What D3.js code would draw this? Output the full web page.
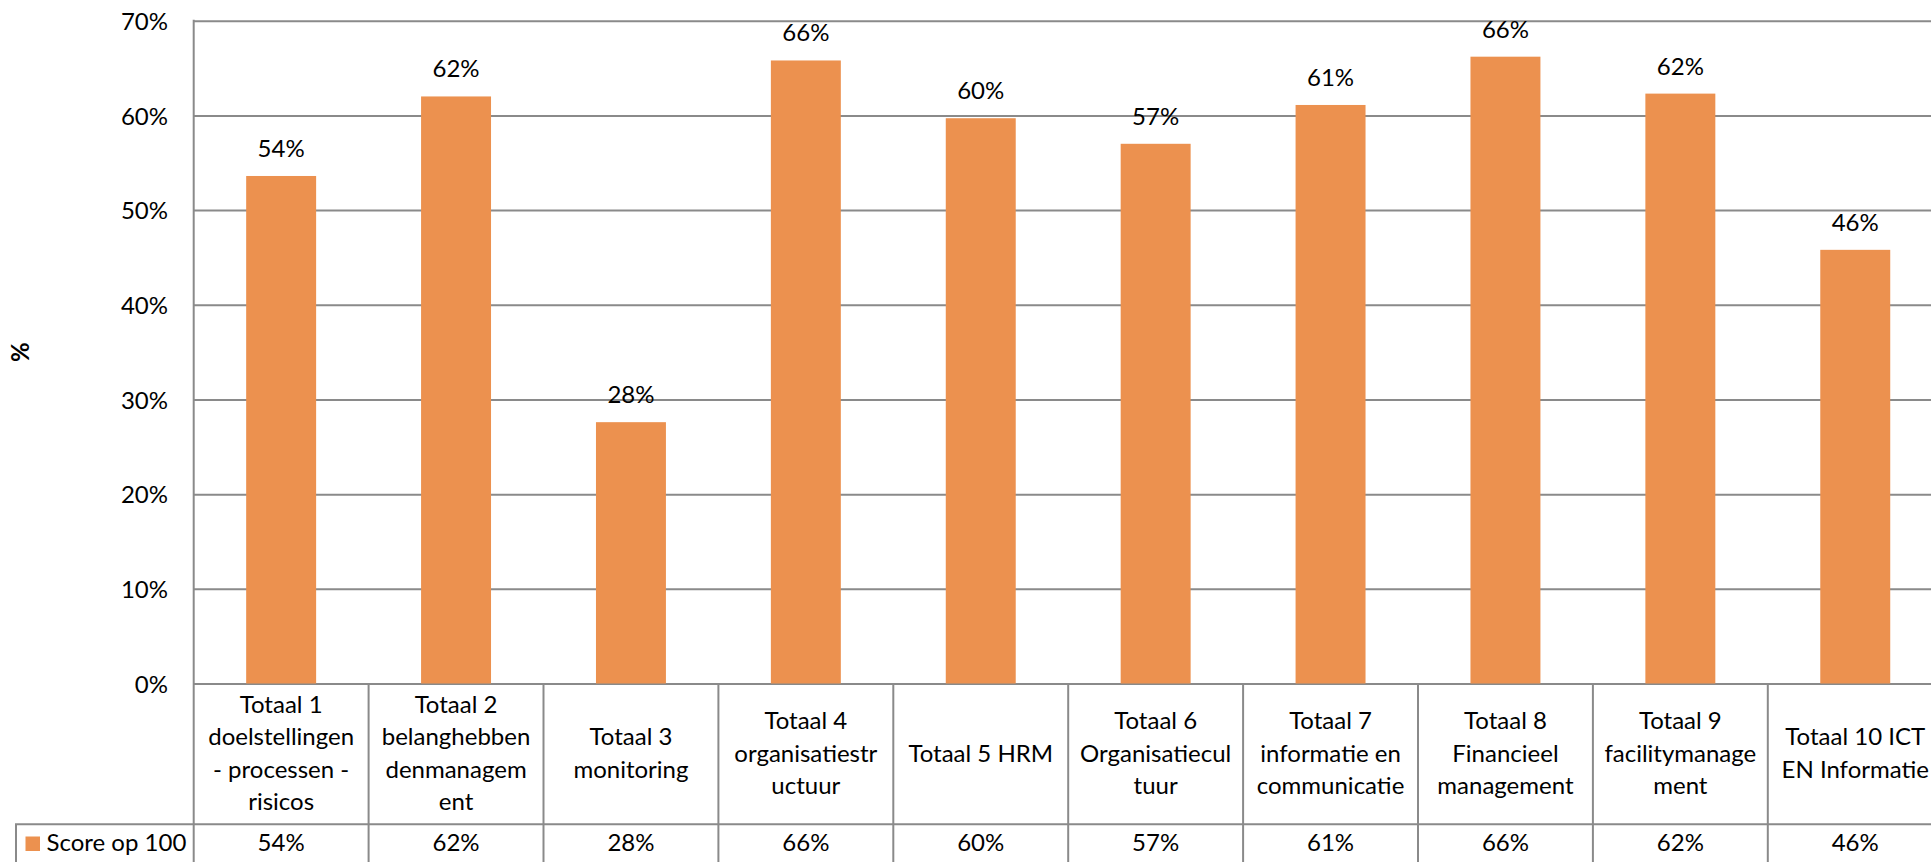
<!DOCTYPE html>
<html>
<head>
<meta charset="utf-8">
<script src="https://cdn.jsdelivr.net/npm/d3@7"></script>
<style>
  html, body { margin: 0; padding: 0; background: #fff; overflow: hidden; }
  svg { display: block; }
  text { font-family: Lato, "Open Sans", sans-serif; fill: #000; }
</style>
</head>
<body>
<svg id="chart" width="1931" height="862"></svg>
<script>
// ---- data ----
const categories = [
  "Totaal 1 doelstellingen - processen - risicos",
  "Totaal 2 belanghebbendenmanagement",
  "Totaal 3 monitoring",
  "Totaal 4 organisatiestructuur",
  "Totaal 5 HRM",
  "Totaal 6 Organisatiecultuur",
  "Totaal 7 informatie en communicatie",
  "Totaal 8 Financieel management",
  "Totaal 9 facilitymanagement",
  "Totaal 10 ICT EN Informatie"
];
const categoryLines = [
  ["Totaal 1", "doelstellingen", "- processen -", "risicos"],
  ["Totaal 2", "belanghebben", "denmanagem", "ent"],
  ["Totaal 3", "monitoring"],
  ["Totaal 4", "organisatiestr", "uctuur"],
  ["Totaal 5 HRM"],
  ["Totaal 6", "Organisatiecul", "tuur"],
  ["Totaal 7", "informatie en", "communicatie"],
  ["Totaal 8", "Financieel", "management"],
  ["Totaal 9", "facilitymanage", "ment"],
  ["Totaal 10 ICT", "EN Informatie"]
];
const seriesName = "Score op 100";
const scores = [0.536, 0.620, 0.276, 0.658, 0.597, 0.570, 0.611, 0.662, 0.623, 0.458];
const yTicks = [0, 0.1, 0.2, 0.3, 0.4, 0.5, 0.6, 0.7];
const yTitle = "%";

// ---- layout ----
const W = 1931, H = 862;
const plotLeft = 193.7, plotRight = 1942.7;
const plotTop = 20.7, plotBottom = 683.5;
const headerBottom = 824.3;
const legendLeft = 16;
const fontSize = 24;
const lineGap = 32.3;
const gridColor = "#8a8a8a";
const barColor = "#EC914F";

const svg = d3.select("#chart");

const x = d3.scaleBand().domain(categories).range([plotLeft, plotRight]).paddingInner(0.6).paddingOuter(0.3);
const xCol = d3.scaleBand().domain(categories).range([plotLeft, plotRight]).padding(0);
const y = d3.scaleLinear().domain([0, 0.7]).range([plotBottom, plotTop]);
const pct = d3.format(".0%");

// gridlines (via axis)
const gridAxis = d3.axisLeft(y).tickValues(yTicks).tickSize(-(plotRight - plotLeft)).tickFormat("");
const grid = svg.append("g").attr("transform", `translate(${plotLeft},0)`).call(gridAxis);
grid.select(".domain").remove();
grid.selectAll(".tick line").attr("stroke", gridColor).attr("stroke-width", 2);

// y tick labels
const yAxis = d3.axisLeft(y).tickValues(yTicks).tickSize(0).tickPadding(0).tickFormat(pct);
const ya = svg.append("g").attr("transform", `translate(168,0)`).call(yAxis);
ya.select(".domain").remove();
ya.selectAll("text")
  .attr("font-size", fontSize)
  .attr("font-family", "Lato, 'Open Sans', sans-serif")
  .attr("fill", "#000")
  .attr("dy", "0.36em");

// y title
svg.append("text")
  .attr("transform", `translate(29,${(plotTop + plotBottom) / 2}) rotate(-90)`)
  .attr("text-anchor", "middle")
  .attr("font-size", fontSize)
  .attr("font-weight", "bold")
  .text(yTitle);

// bars
svg.append("g").selectAll("rect")
  .data(scores)
  .join("rect")
  .attr("x", (d, i) => x(categories[i]))
  .attr("width", x.bandwidth())
  .attr("y", d => y(d))
  .attr("height", d => y(0) - y(d))
  .attr("fill", barColor);

// data labels
svg.append("g").selectAll("text")
  .data(scores)
  .join("text")
  .attr("x", (d, i) => x(categories[i]) + x.bandwidth() / 2)
  .attr("y", d => y(d) - 19)
  .attr("text-anchor", "middle")
  .attr("font-size", fontSize)
  .text(d => pct(d));

// ---- data table ----
const tbl = svg.append("g");
// y axis line (full height)
tbl.append("line")
  .attr("x1", plotLeft).attr("x2", plotLeft)
  .attr("y1", plotTop - 1).attr("y2", H + 5)
  .attr("stroke", gridColor).attr("stroke-width", 2);
// column dividers
tbl.selectAll("line.div")
  .data(categories.slice(1).concat(["__end"]))
  .join("line")
  .attr("class", "div")
  .attr("x1", d => d === "__end" ? plotRight : xCol(d))
  .attr("x2", d => d === "__end" ? plotRight : xCol(d))
  .attr("y1", y(0)).attr("y2", H + 5)
  .attr("stroke", gridColor).attr("stroke-width", 2);
// header bottom / legend row top
tbl.append("line")
  .attr("x1", legendLeft - 1).attr("x2", plotRight)
  .attr("y1", headerBottom).attr("y2", headerBottom)
  .attr("stroke", gridColor).attr("stroke-width", 2);
// legend row left border
tbl.append("line")
  .attr("x1", legendLeft).attr("x2", legendLeft)
  .attr("y1", headerBottom).attr("y2", H + 5)
  .attr("stroke", gridColor).attr("stroke-width", 2);

// category labels
const headMid = (y(0) + headerBottom) / 2;
const catG = tbl.selectAll("text.cat")
  .data(categoryLines)
  .join("text")
  .attr("class", "cat")
  .attr("text-anchor", "middle")
  .attr("font-size", fontSize);
catG.each(function (lines, i) {
  const cx = xCol(categories[i]) + xCol.bandwidth() / 2;
  const first = headMid - (lines.length - 1) / 2 * lineGap + 7.7;
  d3.select(this).selectAll("tspan")
    .data(lines)
    .join("tspan")
    .attr("x", cx)
    .attr("y", (l, j) => first + j * lineGap)
    .text(l => l);
});

// legend row
const rowBase = 850.7;
tbl.append("rect")
  .attr("x", 25.5).attr("y", 836.5)
  .attr("width", 14.5).attr("height", 14.5)
  .attr("fill", barColor);
tbl.append("text")
  .attr("x", 46.5).attr("y", rowBase)
  .attr("font-size", fontSize)
  .text(seriesName);
tbl.selectAll("text.val")
  .data(scores)
  .join("text")
  .attr("class", "val")
  .attr("x", (d, i) => xCol(categories[i]) + xCol.bandwidth() / 2)
  .attr("y", rowBase)
  .attr("text-anchor", "middle")
  .attr("font-size", fontSize)
  .text(d => pct(d));
</script>
</body>
</html>
